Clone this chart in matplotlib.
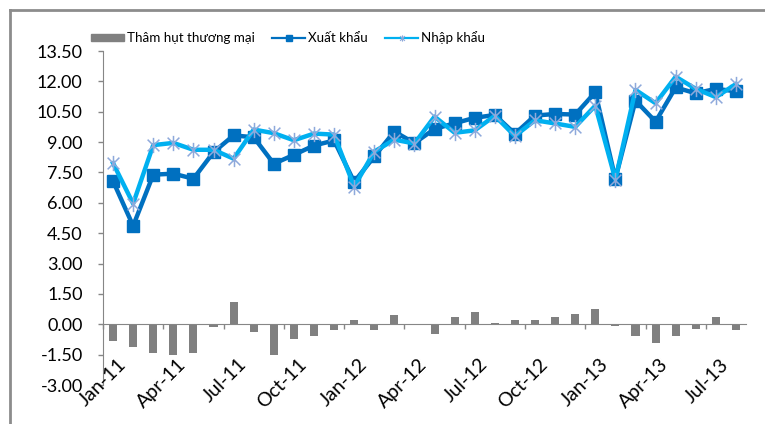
import numpy as np
import matplotlib
matplotlib.use("Agg")
import matplotlib.pyplot as plt
from matplotlib.path import Path
from matplotlib.lines import Line2D
from matplotlib.patches import Patch
import matplotlib.transforms as mtransforms

# Monthly trade data (billion USD)
months = ["Jan-11", "Feb-11", "Mar-11", "Apr-11", "May-11", "Jun-11", "Jul-11", "Aug-11",
          "Sep-11", "Oct-11", "Nov-11", "Dec-11", "Jan-12", "Feb-12", "Mar-12", "Apr-12",
          "May-12", "Jun-12", "Jul-12", "Aug-12", "Sep-12", "Oct-12", "Nov-12", "Dec-12",
          "Jan-13", "Feb-13", "Mar-13", "Apr-13", "May-13", "Jun-13", "Jul-13", "Aug-13"]
exports = [7.07, 4.86, 7.39, 7.44, 7.19, 8.50, 9.33, 9.24, 7.93, 8.37, 8.83, 9.08,
           7.03, 8.29, 9.52, 8.95, 9.65, 9.93, 10.20, 10.34, 9.41, 10.31, 10.39, 10.36,
           11.46, 7.19, 11.05, 10.01, 11.70, 11.41, 11.63, 11.51]
imports = [7.96, 5.96, 8.85, 8.96, 8.62, 8.62, 8.18, 9.62, 9.44, 9.09, 9.42, 9.37,
           6.80, 8.53, 9.12, 8.93, 10.26, 9.46, 9.58, 10.30, 9.30, 10.08, 9.92, 9.75,
           10.80, 7.15, 11.58, 10.92, 12.23, 11.63, 11.22, 11.87]
deficit = [-0.85, -1.10, -1.40, -1.50, -1.40, -0.15, 1.08, -0.40, -1.50, -0.74, -0.57, -0.28,
           0.20, -0.28, 0.44, 0.02, -0.49, 0.36, 0.59, 0.08, 0.20, 0.20, 0.36, 0.49,
           0.77, -0.10, -0.57, -0.92, -0.57, -0.21, 0.36, -0.26]
label_every = 3

plt.rcParams["font.family"] = ["Lato", "DejaVu Sans"]

# Excel-style asterisk: X plus vertical bar
star = Path([(-1, -1), (1, 1), (-1, 1), (1, -1), (0, -1.3), (0, 1.3)],
            [Path.MOVETO, Path.LINETO, Path.MOVETO, Path.LINETO, Path.MOVETO, Path.LINETO])

fig = plt.figure(figsize=(7.65, 4.24), dpi=100)
ax = fig.add_axes([103 / 765, 1 - 385 / 424, (746 - 103) / 765, (385 - 51) / 424])

x = np.arange(len(months))
ax.bar(x, deficit, width=0.4, color="#808080", zorder=2)
ax.plot(x, exports, color="#0070C0", lw=3.2, marker="s", ms=8.5,
        markerfacecolor="#0070C0", markeredgecolor="#0070C0", zorder=3)
ax.plot(x, imports, color="#00B0F0", lw=3.2, zorder=4)
ax.plot(x, imports, ls="none", marker=star, ms=11, markeredgewidth=1.1,
        markeredgecolor="#8EA9DB", markerfacecolor="none", zorder=5)

ax.set_xlim(-0.5, len(months) - 0.5)
ax.set_ylim(-3.0, 13.5)
ax.set_yticks(np.arange(-3.0, 13.51, 1.5))
ax.set_yticklabels([f"{v:.2f}" for v in np.arange(-3.0, 13.51, 1.5)], fontsize=13)
ax.tick_params(axis="y", direction="out", length=3.6, width=1, color="#868686", pad=11)

ax.spines["top"].set_visible(False)
ax.spines["right"].set_visible(False)
ax.spines["left"].set_color("#868686")
ax.spines["bottom"].set_position(("data", 0))
ax.spines["bottom"].set_color("#868686")
ax.set_xticks(np.arange(-0.5, len(months) - 1, label_every))
ax.set_xticklabels([])
ax.tick_params(axis="x", direction="out", length=3.6, width=1, color="#868686")

trans = mtransforms.blended_transform_factory(ax.transData, ax.transAxes)
for i in range(0, len(months), label_every):
    ax.text(i + 0.2, 0.088, months[i], transform=trans, rotation=45,
            rotation_mode="anchor", ha="right", va="top", fontsize=14)

handles = [Patch(color="#808080"),
           Line2D([], [], color="#0070C0", lw=1.6, marker="s", ms=4.5),
           Line2D([], [], color="#00B0F0", lw=1.6, marker=star, ms=4.5,
                  markeredgecolor="#8EA9DB", markeredgewidth=0.8)]
fig.legend(handles, ["Thâm hụt thương mại", "Xuất khẩu", "Nhập khẩu"],
           loc="center", bbox_to_anchor=(288 / 765, 1 - 38 / 424), ncol=3,
           frameon=False, fontsize=9.6, handlelength=2.5, handletextpad=0.2,
           columnspacing=1.3, handleheight=0.4)

# chart border (top and left visible)
fig.add_artist(Line2D([10 / 765, 1], [1 - 10 / 424, 1 - 10 / 424], color="#8C8C8C", lw=2,
                      transform=fig.transFigure))
fig.add_artist(Line2D([10 / 765, 10 / 765], [0, 1 - 10 / 424], color="#8C8C8C", lw=2,
                      transform=fig.transFigure))

fig.savefig("out.png", dpi=100)
